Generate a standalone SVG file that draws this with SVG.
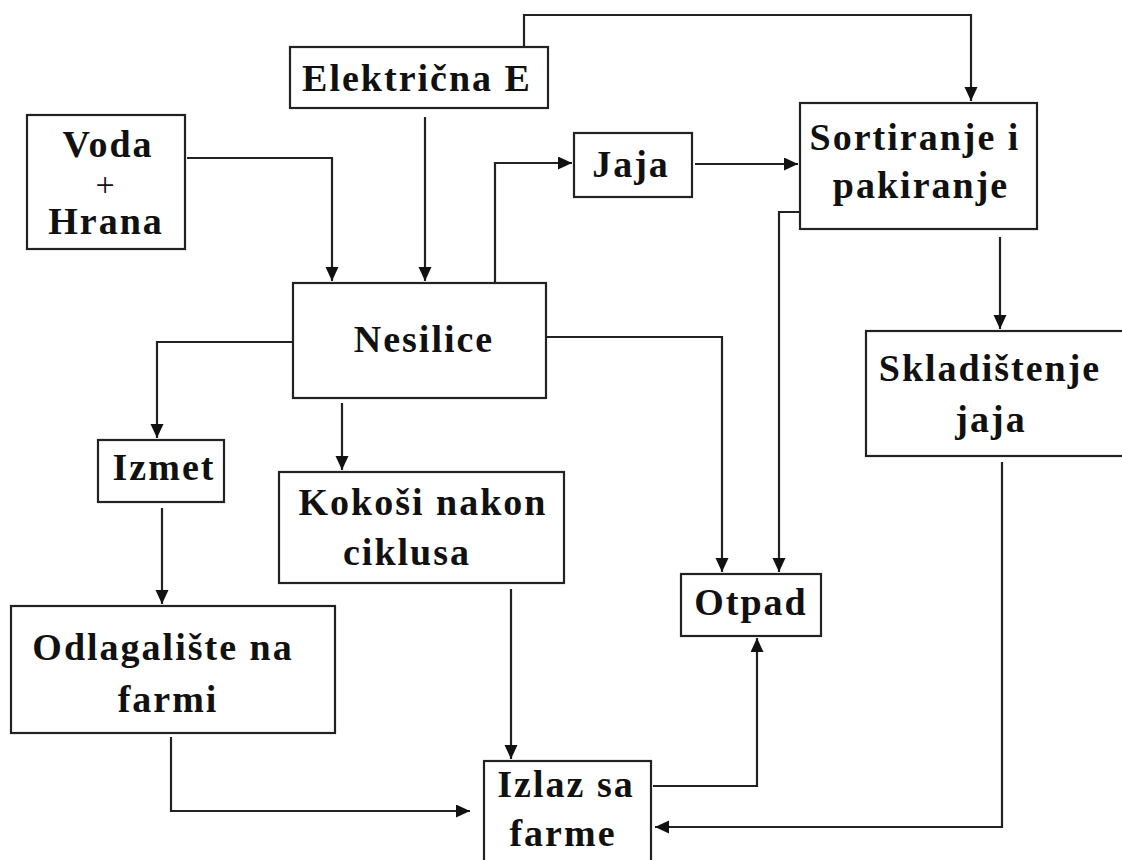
<svg xmlns="http://www.w3.org/2000/svg" width="1122" height="860" viewBox="0 0 1122 860">
<style>
.box{fill:#fff;stroke:#222;stroke-width:2.2}
.t{font-family:"Liberation Serif","Times New Roman",serif;font-weight:bold;font-size:38px;letter-spacing:2px;fill:#111;text-anchor:middle}
.p{font-family:"Liberation Serif","Times New Roman",serif;font-size:34px;fill:#111;text-anchor:middle}
.c{fill:none;stroke:#222;stroke-width:2.2}
</style>
<defs>
<marker id="arr" markerUnits="userSpaceOnUse" markerWidth="16" markerHeight="14" refX="14" refY="6.5" orient="auto">
<path d="M0,0 L14,6.5 L0,13 z" fill="#111"/>
</marker>
</defs>
<rect width="1122" height="860" fill="#fff"/>
<g id="connectors">
<path class="c" d="M187,158 H332 V281" marker-end="url(#arr)"/>
<path class="c" d="M425,117 V281" marker-end="url(#arr)"/>
<path class="c" d="M524,47 V15 H971 V101" marker-end="url(#arr)"/>
<path class="c" d="M495,283 V163 H572" marker-end="url(#arr)"/>
<path class="c" d="M695,164 H798" marker-end="url(#arr)"/>
<path class="c" d="M800,212 H779 V572" marker-end="url(#arr)"/>
<path class="c" d="M1000,237 V329" marker-end="url(#arr)"/>
<path class="c" d="M546,337 H722 V572" marker-end="url(#arr)"/>
<path class="c" d="M293,342 H157 V438" marker-end="url(#arr)"/>
<path class="c" d="M342,403 V470" marker-end="url(#arr)"/>
<path class="c" d="M162,508 V604" marker-end="url(#arr)"/>
<path class="c" d="M511,589 V759" marker-end="url(#arr)"/>
<path class="c" d="M171,737 V811 H470" marker-end="url(#arr)"/>
<path class="c" d="M653,786 H757 V638" marker-end="url(#arr)"/>
<path class="c" d="M1002,462 V827 H655" marker-end="url(#arr)"/>
</g>
<g id="elektricna">
<rect class="box" x="290" y="47" width="258" height="61"/>
<text class="t" x="417" y="91">Električna E</text>
</g>
<g id="voda">
<rect class="box" x="27" y="115" width="158" height="134"/>
<text class="t" x="108" y="157">Voda</text>
<text class="p" x="105" y="196">+</text>
<text class="t" x="106" y="234">Hrana</text>
</g>
<g id="jaja">
<rect class="box" x="574" y="133" width="118" height="64"/>
<text class="t" x="631" y="177">Jaja</text>
</g>
<g id="sortiranje">
<rect class="box" x="800" y="103" width="237" height="126"/>
<text class="t" x="915" y="150">Sortiranje i</text>
<text class="t" x="921" y="198">pakiranje</text>
</g>
<g id="nesilice">
<rect class="box" x="293" y="283" width="253" height="115"/>
<text class="t" x="424" y="352">Nesilice</text>
</g>
<g id="skladistenje">
<rect class="box" x="866" y="331" width="258" height="125"/>
<text class="t" x="990" y="381">Skladištenje</text>
<text class="t" x="991" y="432">jaja</text>
</g>
<g id="izmet">
<rect class="box" x="98" y="440" width="126" height="62"/>
<text class="t" x="164" y="480">Izmet</text>
</g>
<g id="kokosi">
<rect class="box" x="279" y="472" width="285" height="111"/>
<text class="t" x="423" y="515">Kokoši nakon</text>
<text class="t" x="407" y="565">ciklusa</text>
</g>
<g id="otpad">
<rect class="box" x="681" y="574" width="140" height="62"/>
<text class="t" x="751" y="615">Otpad</text>
</g>
<g id="odlagaliste">
<rect class="box" x="11" y="606" width="324" height="127"/>
<text class="t" x="163" y="660">Odlagalište na</text>
<text class="t" x="168" y="712">farmi</text>
</g>
<g id="izlaz">
<rect class="box" x="484" y="761" width="167" height="102"/>
<text class="t" x="566" y="797">Izlaz sa</text>
<text class="t" x="563" y="846">farme</text>
</g>
</svg>
